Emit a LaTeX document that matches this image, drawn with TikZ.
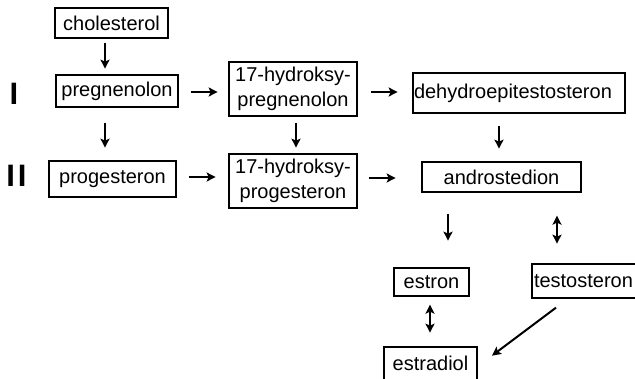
\documentclass[tikz,border=0pt]{standalone}
\usepackage{fontspec}
\setmainfont{Liberation Sans}
\usetikzlibrary{calc,arrows.meta}
\begin{document}
\begin{tikzpicture}[x=1pt,y=-1pt,
  box/.style={draw,line width=1.3pt,inner sep=0pt,font=\fontsize{20}{24.5}\selectfont,align=center},
  arr/.style={line width=2pt,-{Stealth[length=9pt,width=9pt,inset=2pt]}},
  darr/.style={line width=2pt,{Stealth[length=9pt,width=9pt,inset=2pt]}-{Stealth[length=9pt,width=9pt,inset=2pt]}},
  lab/.style={font=\fontsize{31}{31}\bfseries\selectfont,inner sep=0pt}]
\useasboundingbox (0,0) rectangle (635,378);
\begin{scope}
\clip (0,0) rectangle (635,378);
\node[box,minimum width=113,minimum height=30] (chol) at (111.5,23) {cholesterol};
\node[box,minimum width=122,minimum height=32] (preg) at (117,91) {pregnenolon};
\node[box,minimum width=127,minimum height=36] (prog) at (112.5,179) {progesteron};
\node[box,minimum width=128,minimum height=54] (hp) at (293,89) {17-hydroksy-\\pregnenolon};
\node[box,minimum width=128,minimum height=54] (hprog) at (293,181) {17-hydroksy-\\progesteron};
\node[box,minimum width=212,minimum height=40,text width=210,align=left,inner xsep=1pt] (dhea) at (519,93) {dehydroepitestosteron};
\node[box,minimum width=159,minimum height=30] (andro) at (501.5,177) {androstedion};
\node[box,minimum width=75,minimum height=28] (estron) at (431.5,282) {estron};
\node[box,minimum height=34,text width=124,align=left,inner xsep=2pt] (testo) at (596,281) {testosteron};
\node[box,minimum width=93,minimum height=33] (estradiol) at (430.5,363.5) {estradiol};
\end{scope}
\node[lab] (one) at (14,94) {I};
\node[lab] (two) at (16.5,176) {I\kern3pt I};
\draw[arr] ($(chol.south)+(-6.5,4)$) -- ++(0,26);
\draw[arr] ($(preg.east)+(12,1)$) -- ++(27,0);
\draw[arr] ($(preg.south)+(-12,15)$) -- ++(0,25);
\draw[arr] ($(hp.east)+(13,3)$) -- ++(27,0);
\draw[arr] ($(hp.south)+(3,6)$) -- ++(0,25);
\draw[arr] ($(prog.east)+(12,-2)$) -- ++(27,0);
\draw[arr] ($(hprog.east)+(11,-3)$) -- ++(27,0);
\draw[arr] ($(dhea.south)+(-20,12)$) -- ++(0,23);
\draw[arr] ($(andro.south)+(-53.5,21)$) -- ++(0,27);
\draw[darr] ($(andro.south)+(55.5,23)$) -- ++(0,28);
\draw[darr] ($(estron.south)+(-1.5,8)$) -- ++(0,28);
\draw[arr] ($(testo.south)+(-40,9)$) -- ++(-64,48);
\end{tikzpicture}
\end{document}
